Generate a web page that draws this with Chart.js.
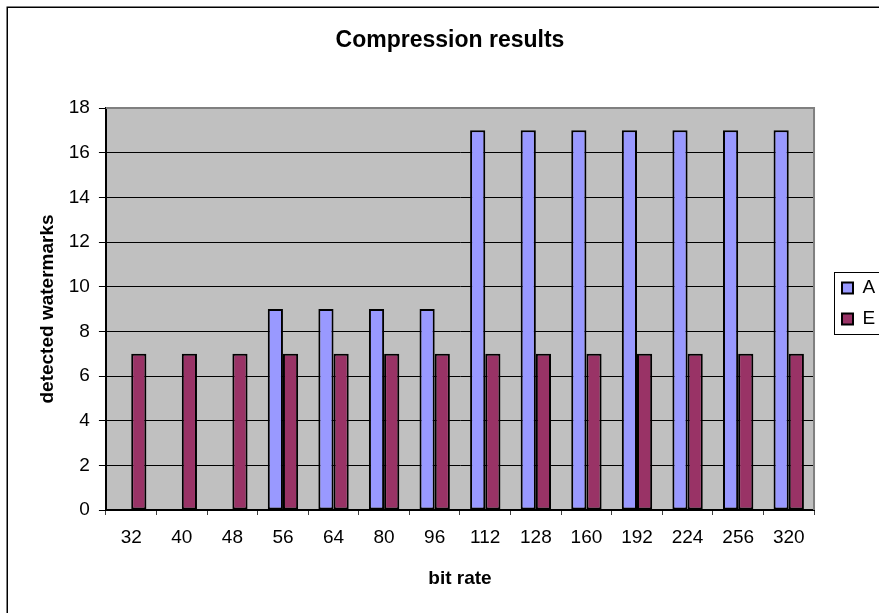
<!DOCTYPE html>
<html>
<head>
<meta charset="utf-8">
<script src="https://cdn.jsdelivr.net/npm/chart.js@4/dist/chart.umd.min.js"></script>
<style>
  html, body { margin: 0; padding: 0; background: #ffffff; }
  canvas { display: block; }
</style>
</head>
<body>
<canvas id="chart" width="879" height="613"></canvas>
<script>
// Bit rates tested (x categories)
const bitRates = ['32', '40', '48', '56', '64', '80', '96', '112', '128', '160', '192', '224', '256', '320'];
// Detected watermarks per bit rate
const seriesA = [0, 0, 0, 9, 9, 9, 9, 17, 17, 17, 17, 17, 17, 17];
const seriesE = [7, 7, 7, 7, 7, 7, 7, 7, 7, 7, 7, 7, 7, 7];
// Value axis range
const yMin = 0;
const yMax = 18;
const yStep = 2;

const FONT = "'Liberation Sans', Arial, Helvetica, sans-serif";

// Grey plot background, plot frame, outer frame and legend frame
const framePlugin = {
  id: 'frame',
  afterLayout(chart) {
    // move the legend a bit away from the plot area
    const lg = chart.legend;
    lg.left += 16;
    lg.right += 16;
  },
  beforeDraw(chart) {
    const { ctx, chartArea: a } = chart;
    ctx.save();
    ctx.fillStyle = '#C0C0C0';
    ctx.fillRect(a.left, a.top, a.right - a.left, a.bottom - a.top);
    ctx.restore();
  },
  beforeDatasetsDraw(chart) {
    const { ctx, chartArea: a } = chart;
    ctx.save();
    ctx.strokeStyle = '#808080';
    ctx.lineWidth = 2;
    ctx.beginPath();
    ctx.moveTo(a.left, a.top);
    ctx.lineTo(a.right, a.top);
    ctx.lineTo(a.right, a.bottom);
    ctx.stroke();
    ctx.restore();
  },
  afterDraw(chart) {
    const { ctx } = chart;
    ctx.save();
    ctx.strokeStyle = '#000000';
    ctx.lineWidth = 1.5;
    ctx.strokeRect(7.25, 7.25, chart.width + 20, chart.height + 20);
    const hb = chart.legend.legendHitBoxes;
    if (hb && hb.length) {
      const first = hb[0];
      const last = hb[hb.length - 1];
      const x0 = Math.round(first.left - 8) + 0.5;
      const y0 = Math.round(first.top - 6.5) + 0.5;
      const y1 = Math.round(last.top + last.height + 5.5) + 0.5;
      ctx.lineWidth = 1;
      ctx.strokeRect(x0, y0, chart.width, y1 - y0);
    }
    ctx.restore();
  }
};

new Chart(document.getElementById('chart'), {
  type: 'bar',
  data: {
    labels: bitRates,
    datasets: [
      {
        label: 'A',
        data: seriesA,
        backgroundColor: '#9999FF',
        borderColor: '#000000',
        borderWidth: 2,
        borderSkipped: false,
        categoryPercentage: 0.6,
        barPercentage: 1.0
      },
      {
        label: 'E',
        data: seriesE,
        backgroundColor: '#993366',
        borderColor: '#000000',
        borderWidth: 2,
        borderSkipped: false,
        categoryPercentage: 0.6,
        barPercentage: 1.0
      }
    ]
  },
  options: {
    responsive: false,
    animation: false,
    devicePixelRatio: 1,
    layout: { padding: { left: 30.8, right: 9.8, top: 0, bottom: 6 } },
    plugins: {
      title: {
        display: true,
        text: 'Compression results',
        color: '#000000',
        font: { family: FONT, size: 23, weight: 'bold' },
        padding: { top: 27.2, bottom: 53.2 }
      },
      legend: {
        position: 'right',
        labels: {
          boxWidth: 11,
          boxHeight: 11,
          padding: 12,
          color: '#000000',
          font: { family: FONT, size: 19 }
        }
      },
      tooltip: { enabled: false }
    },
    scales: {
      x: {
        grid: {
          display: true,
          drawOnChartArea: false,
          offset: true,
          tickLength: 5,
          color: '#404040'
        },
        border: { color: '#000000', width: 2 },
        ticks: {
          color: '#000000',
          padding: 11.6,
          autoSkip: false,
          maxRotation: 0,
          font: { family: FONT, size: 19 }
        },
        title: {
          display: true,
          text: 'bit rate',
          color: '#000000',
          font: { family: FONT, size: 19, weight: 'bold' },
          padding: { top: 6.2, bottom: 17 }
        }
      },
      y: {
        min: yMin,
        max: yMax,
        ticks: {
          stepSize: yStep,
          color: '#000000',
          padding: 9,
          font: { family: FONT, size: 19 }
        },
        grid: {
          color: (c) => (c.tick && c.tick.value === yMax ? 'rgba(0,0,0,0)' : '#000000'),
          tickColor: '#000000',
          tickLength: 7,
          lineWidth: 1
        },
        border: { color: '#000000', width: 2 },
        title: {
          display: true,
          text: 'detected watermarks',
          color: '#000000',
          font: { family: FONT, size: 19, weight: 'bold' },
          padding: { top: 5.3, bottom: 0.9 }
        }
      }
    }
  },
  plugins: [framePlugin]
});
</script>
</body>
</html>
